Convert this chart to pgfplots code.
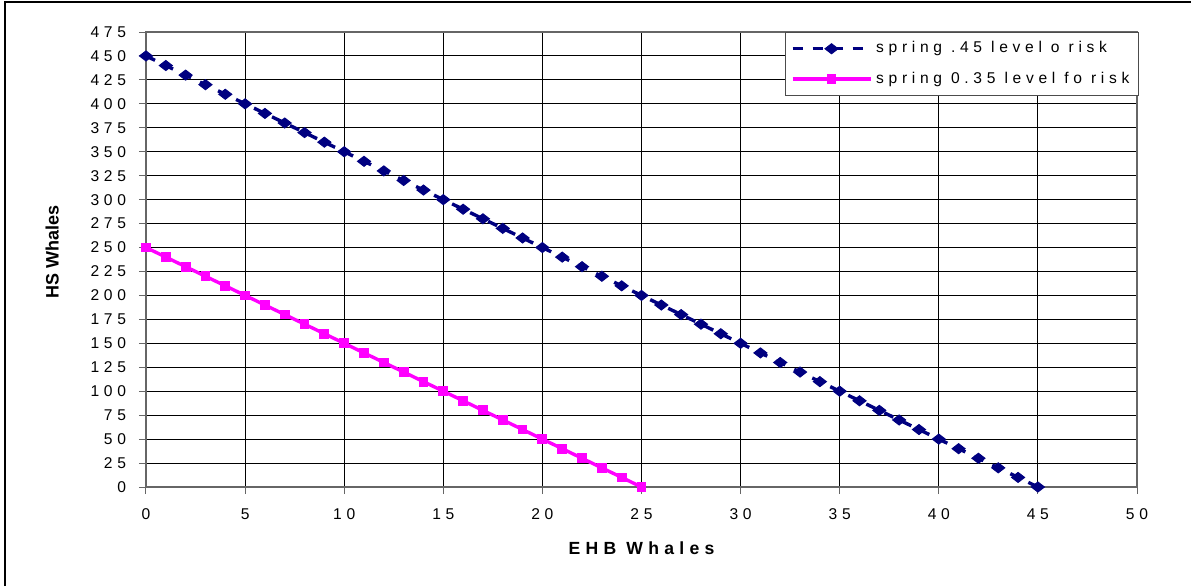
\documentclass[border=0pt]{standalone}
\usepackage{pgfplots}
\pgfplotsset{compat=1.18}
\usepackage{fontspec}
\setmainfont{Liberation Sans}
\newfontfamily\spaced[LetterSpace=30]{Liberation Sans}
\definecolor{navyc}{RGB}{0,0,128}
\definecolor{magc}{RGB}{255,0,255}
\pgfdeclareplotmark{wdiamond}{%
  \pgfpathmoveto{\pgfpoint{1.3\pgfplotmarksize}{0pt}}%
  \pgfpathlineto{\pgfpoint{0pt}{\pgfplotmarksize}}%
  \pgfpathlineto{\pgfpoint{-1.3\pgfplotmarksize}{0pt}}%
  \pgfpathlineto{\pgfpoint{0pt}{-\pgfplotmarksize}}%
  \pgfpathclose\pgfusepathqfillstroke}
\begin{document}
\begin{tikzpicture}
\useasboundingbox (0pt,0pt) rectangle (595.5pt,293pt);
\draw[black,line width=0.6pt] (2.5pt,0pt) -- (2.5pt,292pt) -- (595.5pt,292pt);
\begin{axis}[
  at={(73pt,49.5pt)}, anchor=south west,
  scale only axis, width=495.5pt, height=227.5pt,
  xmin=0, xmax=50, ymin=0, ymax=475,
  xtick={0,5,...,50}, ytick={0,25,...,475},
  grid=major, major grid style={black, line width=0.5pt},
  axis line style={gray!80!black, line width=0.6pt},
  tick style={gray!80!black, line width=0.5pt},
  tick align=outside, major tick length=3.5pt,
  xtick pos=bottom, ytick pos=left,
  /pgf/number format/assume math mode=true,
  ticklabel style={font=\spaced\fontsize{7.8}{9}\selectfont},
  yticklabel style={xshift=-3pt},
  xticklabel style={yshift=-4pt},
  xlabel={\spaced\bfseries EHB Whales},
  ylabel={\bfseries HS Whales},
  xlabel style={font=\fontsize{8.8}{10}\selectfont, yshift=-4pt},
  ylabel style={font=\fontsize{9}{10}\selectfont, yshift=9pt, xshift=4pt},
  legend style={at={(1.002,1)}, anchor=north east, draw=gray!60!black, line width=0.6pt,
    font=\spaced\fontsize{7.8}{9}\selectfont, row sep=4pt, inner sep=2.5pt,
    cells={anchor=west}},
  legend image code/.code={\draw[#1] (0pt,0pt) -- (39pt,0pt); \draw[#1,mark repeat=1,mark phase=1] plot coordinates {(19.5pt,0pt)};},
]
\addplot[navyc, line width=1.7pt, dash pattern=on 5pt off 5pt, mark=wdiamond, mark size=2.5pt, mark options={solid, line width=0.5pt}] coordinates {
(0,450)(1,440)(2,430)(3,420)(4,410)(5,400)(6,390)(7,380)(8,370)(9,360)(10,350)
(11,340)(12,330)(13,320)(14,310)(15,300)(16,290)(17,280)(18,270)(19,260)(20,250)
(21,240)(22,230)(23,220)(24,210)(25,200)(26,190)(27,180)(28,170)(29,160)(30,150)
(31,140)(32,130)(33,120)(34,110)(35,100)(36,90)(37,80)(38,70)(39,60)(40,50)
(41,40)(42,30)(43,20)(44,10)(45,0)};
\addlegendentry{spring .45 level o risk}
\addplot[magc, line width=1.7pt, mark=square*, mark size=2.2pt, mark options={line width=0.5pt}] coordinates {
(0,250)(1,240)(2,230)(3,220)(4,210)(5,200)(6,190)(7,180)(8,170)(9,160)(10,150)
(11,140)(12,130)(13,120)(14,110)(15,100)(16,90)(17,80)(18,70)(19,60)(20,50)
(21,40)(22,30)(23,20)(24,10)(25,0)};
\addlegendentry{spring 0.35 level fo risk}
\end{axis}
\end{tikzpicture}
\end{document}
